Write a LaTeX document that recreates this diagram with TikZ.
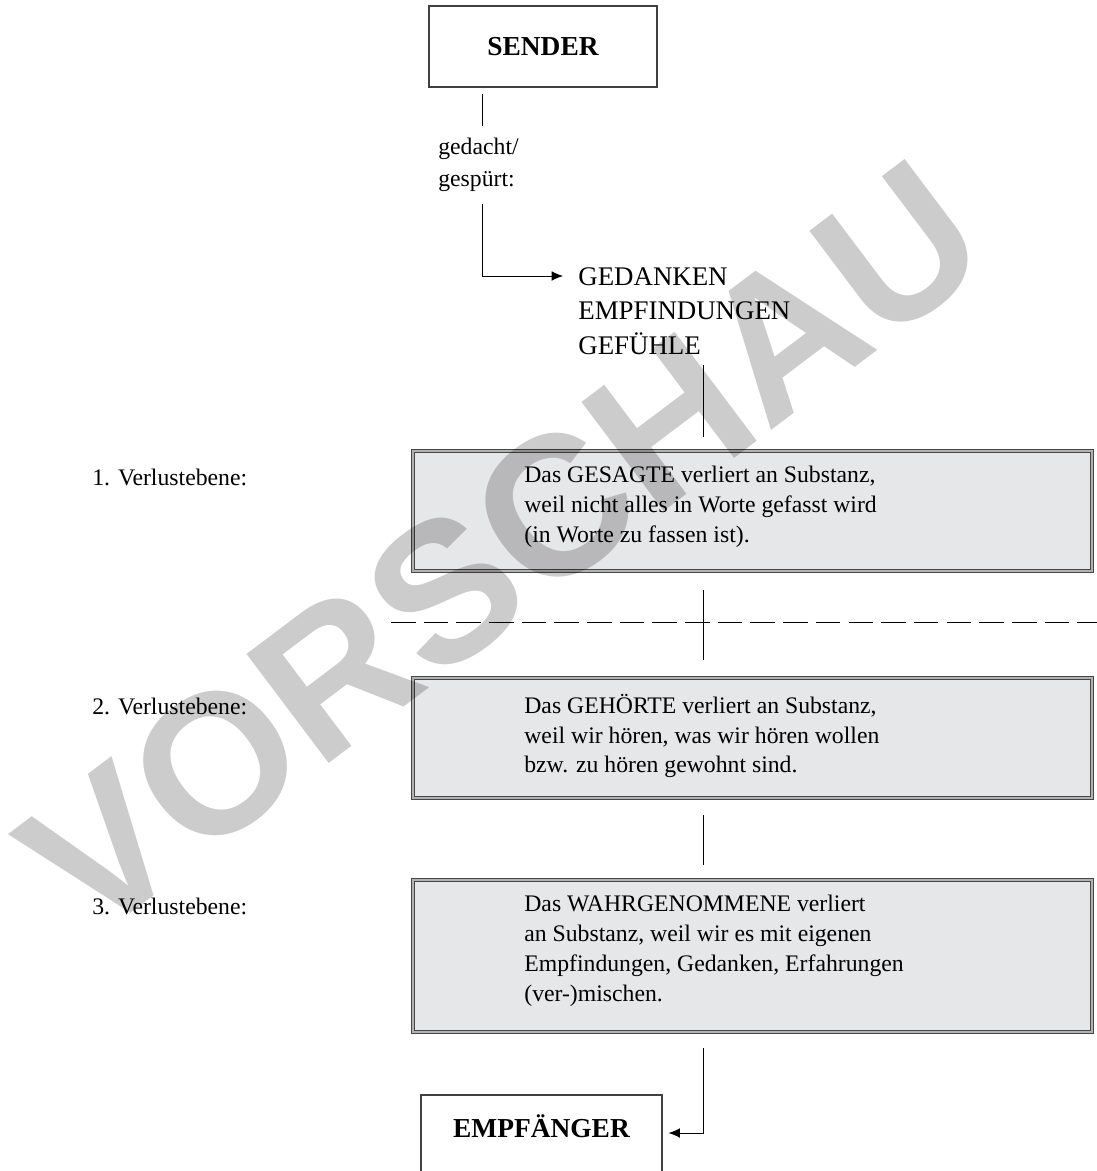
\documentclass[tikz,border=0pt]{standalone}
\usepackage{fontspec}
\setmainfont{Liberation Serif}
\newfontfamily\wmfont{Liberation Sans}
\usepackage{xcolor}
\usetikzlibrary{
  arrows.meta,
  positioning,
  calc}
\definecolor{boxgray}{HTML}{E6E7E9}
\tikzset{every picture/.style={font issue=\fontsize{13.5}{17}},
         font issue/.style={execute at begin picture={#1\selectfont}},
         endbox/.style={draw=black!75, line width=0.6pt, minimum width=4.56cm, minimum height=1.62cm, font=\fontsize{15.6}{18}\selectfont\bfseries},
         verlust/.style={draw=black!72, fill=boxgray, double=black!30, double distance=0.8pt, line width=0.55pt, minimum width=13.58cm},
         fliess/.style={align=left, inner sep=0pt, anchor=west},
         verbind/.style={line width=0.5pt},
         pfeil/.style={verbind, -{Latex[length=6.5pt,width=5.5pt]}}
        }

\begin{document}
\begin{tikzpicture}[x=0.02cm, y=-0.02cm]
\useasboundingbox (0,0) rectangle (1097,1171);
\node[endbox] (sender) at (543,46.5) {SENDER};
\node[fliess, font=\fontsize{13.5}{18.2}\selectfont] (gedacht) at (438,165) {gedacht/\\gesp\"urt:};
\node[fliess, font=\fontsize{15.3}{19.6}\selectfont] (inhalt) at (578,311) {GEDANKEN\\EMPFINDUNGEN\\GEF\"UHLE};
\node[verlust, minimum height=2.4cm] (box1) at (752.5,511) {};
\node[verlust, minimum height=2.4cm] (box2) at (752.5,738) {};
\node[verlust, minimum height=3.04cm] (box3) at (752.5,956) {};
\node[fliess] (text1) at (524,507) {Das GESAGTE verliert an Substanz,\\weil nicht alles in Worte gefasst wird\\(in Worte zu fassen ist).};
\node[fliess] (text2) at (524,736) {Das GEH\"ORTE verliert an Substanz,\\weil wir h\"oren, was wir h\"oren wollen\\bzw. zu h\"oren gewohnt sind.};
\node[fliess] (text3) at (524,951) {Das WAHRGENOMMENE verliert\\an Substanz, weil wir es mit eigenen\\Empfindungen, Gedanken, Erfahrungen\\(ver-)mischen.};
\node[fliess] (ebene1) at (92,477) {1. Verlustebene:};
\node[fliess] (ebene2) at (92,706) {2. Verlustebene:};
\node[fliess] (ebene3) at (92,906) {3. Verlustebene:};
\node[endbox, minimum width=4.82cm, text depth=11pt] (empf) at (541.5,1135.5) {EMPF\"ANGER};
% Verbindungen
\coordinate (s1) at (482,94);
\coordinate (s2) at (482,126);
\coordinate (g1) at (482,204);
\coordinate (g2) at (482,276);
\coordinate (k1) at (703,365);
\coordinate (k2) at (703,437);
\coordinate (d1) at (703,590);
\coordinate (d2) at (703,660);
\coordinate (l1) at (391,622);
\coordinate (l2) at (1097,622);
\coordinate (h1) at (703,815);
\coordinate (h2) at (703,865);
\coordinate (w1) at (703,1048);
\coordinate (w2) at (703,1133);
\draw[verbind] (s1) -- (s2);
\draw[pfeil] (g1) -- (g2) -- ([xshift=-0.3cm]inhalt.west |- g2);
\draw[verbind] (k1) -- (k2);
\draw[verbind] (d1) -- (d2);
\draw[verbind, dash pattern=on 14pt off 4.6pt] (l1) -- (l2);
\draw[verbind] (h1) -- (h2);
\draw[pfeil] (w1) -- (w2) -- ([xshift=0.12cm]empf.east |- w2);
% Vorschau
\node[rotate=37, text=black, opacity=0.2, font=\wmfont\bfseries\fontsize{113}{113}\selectfont] (vorschau) at (502,548) {VORSCHAU};
\end{tikzpicture}
\end{document}
